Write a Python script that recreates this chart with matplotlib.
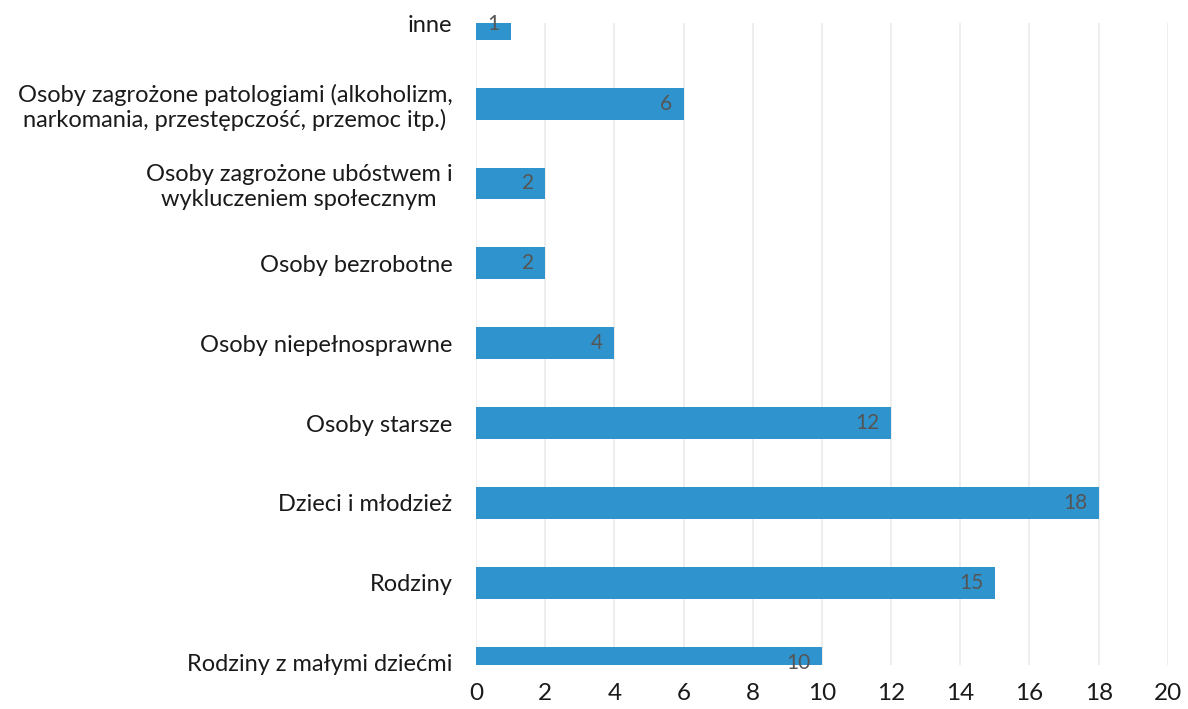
import matplotlib.pyplot as plt

plt.rcParams['font.family'] = ['Lato', 'DejaVu Sans']

categories = [
    "Rodziny z małymi dziećmi",
    "Rodziny",
    "Dzieci i młodzież",
    "Osoby starsze",
    "Osoby niepełnosprawne",
    "Osoby bezrobotne",
    "Osoby zagrożone ubóstwem i\nwykluczeniem społecznym",
    "Osoby zagrożone patologiami (alkoholizm,\nnarkomania, przestępczość, przemoc itp.)",
    "inne",
]
values = [10, 15, 18, 12, 4, 2, 2, 6, 1]
x_ticks = [0, 2, 4, 6, 8, 10, 12, 14, 16, 18, 20]

bar_color = "#2f93cd"

fig = plt.figure(figsize=(11.88, 7.09), dpi=100)
ax = fig.add_axes([0.4007, 0.062, 0.5823, 0.9056])

pos = list(range(len(categories)))
bars = ax.barh(pos, values, height=0.4, color=bar_color, zorder=3)

# value labels just inside the end of each bar
for b, v in zip(bars, values):
    ax.annotate(str(v), xy=(b.get_width(), b.get_y() + b.get_height() / 2),
                xytext=(-8, 0), textcoords="offset points",
                ha="right", va="center", fontsize=15, color="#555555", zorder=4)

ax.set_xlim(0, 20)
ax.set_ylim(-0.03, 8.01)
ax.set_xticks(x_ticks)
ax.set_yticks(pos)
ax.set_yticklabels(categories, multialignment="center")

ax.tick_params(axis="x", length=0, labelsize=17.5, colors="#1a1a1a", pad=13)
ax.tick_params(axis="y", length=0, labelsize=17, colors="#1a1a1a", pad=17)

ax.grid(axis="x", color="#ebebeb", linewidth=1.2, zorder=0)
for s in ax.spines.values():
    s.set_visible(False)

fig.savefig("out.png", dpi=100)
